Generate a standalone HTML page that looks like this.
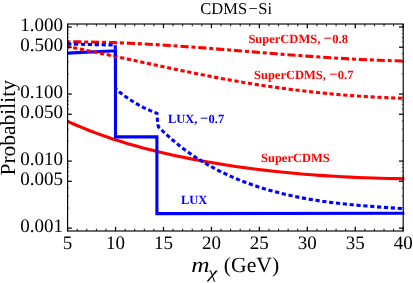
<!DOCTYPE html>
<html><head><meta charset="utf-8"><style>
html,body{margin:0;padding:0;background:#fff;}
svg{display:block;font-family:"Liberation Serif",serif;text-rendering:geometricPrecision;will-change:transform;}
</style></head><body>
<svg width="413" height="283" viewBox="0 0 413 283">
<rect width="413" height="283" fill="#fff"/>
<defs><clipPath id="c"><rect x="67.6" y="24.0" width="336.9" height="207.0"/></clipPath></defs>
<g clip-path="url(#c)" fill="none" stroke-linejoin="miter">
<path d="M67.60,121.33 L75.23,124.72 L82.87,127.94 L90.50,130.98 L98.14,133.86 L105.77,136.58 L113.40,139.16 L121.04,141.60 L128.67,143.90 L136.31,146.09 L143.94,148.16 L151.57,150.12 L159.21,151.99 L166.84,153.77 L174.48,155.47 L182.11,157.08 L189.75,158.62 L197.38,160.08 L205.01,161.47 L212.65,162.80 L220.28,164.07 L227.92,165.28 L235.55,166.42 L243.18,167.50 L250.82,168.53 L258.45,169.49 L266.09,170.41 L273.72,171.26 L281.35,172.07 L288.99,172.82 L296.62,173.52 L304.26,174.17 L311.89,174.78 L319.52,175.33 L327.16,175.84 L334.79,176.31 L342.43,176.74 L350.06,177.12 L357.70,177.46 L365.33,177.76 L372.96,178.03 L380.60,178.26 L388.23,178.45 L395.87,178.61 L403.50,178.74 L404.70,178.76" stroke="#f00" stroke-width="3.1"/>
<path d="M67.60,53.10 L115.50,50.80 L115.50,136.90 L156.90,136.90 L156.90,213.60 L404.70,213.20" stroke="#00f" stroke-width="3.1"/>
<path d="M67.60,46.64 L76.21,48.33 L84.83,50.06 L93.44,51.83 L102.05,53.62 L110.66,55.44 L119.28,57.28 L127.89,59.13 L136.50,60.99 L145.12,62.85 L153.73,64.70 L162.34,66.55 L170.95,68.37 L179.57,70.18 L188.18,71.96 L196.79,73.71 L205.41,75.42 L214.02,77.09 L222.63,78.71 L231.24,80.27 L239.86,81.78 L248.47,83.22 L257.08,84.60 L265.69,85.92 L274.31,87.18 L282.92,88.37 L291.53,89.50 L300.15,90.56 L308.76,91.56 L317.37,92.50 L325.98,93.37 L334.60,94.18 L343.21,94.92 L351.82,95.60 L360.44,96.21 L369.05,96.75 L377.66,97.23 L386.27,97.64 L394.89,97.98 L403.50,98.26 L404.70,98.30" stroke="#f00" stroke-width="3.1" stroke-dasharray="4.2,2.660" stroke-dashoffset="1.23"/>
<path d="M67.60,41.87 L79.18,41.89 L90.77,42.04 L102.35,42.29 L113.93,42.64 L125.51,43.09 L137.10,43.63 L148.68,44.24 L160.26,44.92 L171.84,45.66 L183.43,46.46 L195.01,47.30 L206.59,48.17 L218.18,49.08 L229.76,50.01 L241.34,50.95 L252.92,51.89 L264.51,52.84 L276.09,53.77 L287.67,54.68 L299.26,55.57 L310.84,56.42 L322.42,57.22 L334.00,57.98 L345.59,58.67 L357.17,59.30 L368.75,59.86 L380.33,60.32 L391.92,60.70 L403.50,60.98 L404.70,61.01" stroke="#f00" stroke-width="3.1" stroke-dasharray="8.15,2.87,4,2.87" stroke-dashoffset="12.29"/>
<path d="M67.60,44.00 L115.30,45.10 L115.50,88.70 L120.10,92.57 L124.70,96.05 L129.30,99.24 L133.90,102.17 L138.50,104.84 L143.10,107.28 L147.70,109.48 L152.30,111.47 L156.90,113.26 L157.80,124.80 L158.60,127.11 L162.10,130.50 L165.59,133.77 L169.09,136.93 L172.59,139.96 L176.08,142.88 L179.58,145.70 L183.08,148.40 L186.57,151.00 L190.07,153.51 L193.57,155.91 L197.06,158.22 L200.56,160.44 L204.06,162.57 L207.55,164.62 L211.05,166.59 L214.54,168.48 L218.04,170.29 L221.54,172.04 L225.03,173.71 L228.53,175.33 L232.03,176.88 L235.52,178.37 L239.02,179.81 L242.52,181.19 L246.01,182.53 L249.51,183.81 L253.01,185.05 L256.50,186.24 L260.00,187.38 L265.00,188.94 L272.29,191.05 L279.58,192.98 L286.87,194.74 L294.16,196.35 L301.45,197.81 L308.74,199.13 L316.03,200.33 L323.32,201.41 L330.61,202.39 L337.89,203.28 L345.18,204.08 L352.47,204.80 L359.76,205.47 L367.05,206.08 L374.34,206.65 L381.63,207.18 L388.92,207.70 L396.21,208.21 L403.50,208.71 L404.70,208.79" stroke="#00f" stroke-width="3.1" stroke-dasharray="4.2,2.681" stroke-dashoffset="0.42"/>
</g>
<rect x="67.6" y="24.0" width="335.6" height="207.0" fill="none" stroke="#000" stroke-width="1.15"/>
<g stroke="#000" stroke-width="1.25"><line x1="67.60" y1="231.0" x2="67.60" y2="226.8"/><line x1="67.60" y1="24.0" x2="67.60" y2="28.2"/><line x1="77.19" y1="231.0" x2="77.19" y2="228.6" stroke-width="0.9"/><line x1="77.19" y1="24.0" x2="77.19" y2="26.4" stroke-width="0.9"/><line x1="86.78" y1="231.0" x2="86.78" y2="228.6" stroke-width="0.9"/><line x1="86.78" y1="24.0" x2="86.78" y2="26.4" stroke-width="0.9"/><line x1="96.37" y1="231.0" x2="96.37" y2="228.6" stroke-width="0.9"/><line x1="96.37" y1="24.0" x2="96.37" y2="26.4" stroke-width="0.9"/><line x1="105.95" y1="231.0" x2="105.95" y2="228.6" stroke-width="0.9"/><line x1="105.95" y1="24.0" x2="105.95" y2="26.4" stroke-width="0.9"/><line x1="115.54" y1="231.0" x2="115.54" y2="226.8"/><line x1="115.54" y1="24.0" x2="115.54" y2="28.2"/><line x1="125.13" y1="231.0" x2="125.13" y2="228.6" stroke-width="0.9"/><line x1="125.13" y1="24.0" x2="125.13" y2="26.4" stroke-width="0.9"/><line x1="134.72" y1="231.0" x2="134.72" y2="228.6" stroke-width="0.9"/><line x1="134.72" y1="24.0" x2="134.72" y2="26.4" stroke-width="0.9"/><line x1="144.31" y1="231.0" x2="144.31" y2="228.6" stroke-width="0.9"/><line x1="144.31" y1="24.0" x2="144.31" y2="26.4" stroke-width="0.9"/><line x1="153.90" y1="231.0" x2="153.90" y2="228.6" stroke-width="0.9"/><line x1="153.90" y1="24.0" x2="153.90" y2="26.4" stroke-width="0.9"/><line x1="163.49" y1="231.0" x2="163.49" y2="226.8"/><line x1="163.49" y1="24.0" x2="163.49" y2="28.2"/><line x1="173.07" y1="231.0" x2="173.07" y2="228.6" stroke-width="0.9"/><line x1="173.07" y1="24.0" x2="173.07" y2="26.4" stroke-width="0.9"/><line x1="182.66" y1="231.0" x2="182.66" y2="228.6" stroke-width="0.9"/><line x1="182.66" y1="24.0" x2="182.66" y2="26.4" stroke-width="0.9"/><line x1="192.25" y1="231.0" x2="192.25" y2="228.6" stroke-width="0.9"/><line x1="192.25" y1="24.0" x2="192.25" y2="26.4" stroke-width="0.9"/><line x1="201.84" y1="231.0" x2="201.84" y2="228.6" stroke-width="0.9"/><line x1="201.84" y1="24.0" x2="201.84" y2="26.4" stroke-width="0.9"/><line x1="211.43" y1="231.0" x2="211.43" y2="226.8"/><line x1="211.43" y1="24.0" x2="211.43" y2="28.2"/><line x1="221.02" y1="231.0" x2="221.02" y2="228.6" stroke-width="0.9"/><line x1="221.02" y1="24.0" x2="221.02" y2="26.4" stroke-width="0.9"/><line x1="230.61" y1="231.0" x2="230.61" y2="228.6" stroke-width="0.9"/><line x1="230.61" y1="24.0" x2="230.61" y2="26.4" stroke-width="0.9"/><line x1="240.19" y1="231.0" x2="240.19" y2="228.6" stroke-width="0.9"/><line x1="240.19" y1="24.0" x2="240.19" y2="26.4" stroke-width="0.9"/><line x1="249.78" y1="231.0" x2="249.78" y2="228.6" stroke-width="0.9"/><line x1="249.78" y1="24.0" x2="249.78" y2="26.4" stroke-width="0.9"/><line x1="259.37" y1="231.0" x2="259.37" y2="226.8"/><line x1="259.37" y1="24.0" x2="259.37" y2="28.2"/><line x1="268.96" y1="231.0" x2="268.96" y2="228.6" stroke-width="0.9"/><line x1="268.96" y1="24.0" x2="268.96" y2="26.4" stroke-width="0.9"/><line x1="278.55" y1="231.0" x2="278.55" y2="228.6" stroke-width="0.9"/><line x1="278.55" y1="24.0" x2="278.55" y2="26.4" stroke-width="0.9"/><line x1="288.14" y1="231.0" x2="288.14" y2="228.6" stroke-width="0.9"/><line x1="288.14" y1="24.0" x2="288.14" y2="26.4" stroke-width="0.9"/><line x1="297.73" y1="231.0" x2="297.73" y2="228.6" stroke-width="0.9"/><line x1="297.73" y1="24.0" x2="297.73" y2="26.4" stroke-width="0.9"/><line x1="307.31" y1="231.0" x2="307.31" y2="226.8"/><line x1="307.31" y1="24.0" x2="307.31" y2="28.2"/><line x1="316.90" y1="231.0" x2="316.90" y2="228.6" stroke-width="0.9"/><line x1="316.90" y1="24.0" x2="316.90" y2="26.4" stroke-width="0.9"/><line x1="326.49" y1="231.0" x2="326.49" y2="228.6" stroke-width="0.9"/><line x1="326.49" y1="24.0" x2="326.49" y2="26.4" stroke-width="0.9"/><line x1="336.08" y1="231.0" x2="336.08" y2="228.6" stroke-width="0.9"/><line x1="336.08" y1="24.0" x2="336.08" y2="26.4" stroke-width="0.9"/><line x1="345.67" y1="231.0" x2="345.67" y2="228.6" stroke-width="0.9"/><line x1="345.67" y1="24.0" x2="345.67" y2="26.4" stroke-width="0.9"/><line x1="355.26" y1="231.0" x2="355.26" y2="226.8"/><line x1="355.26" y1="24.0" x2="355.26" y2="28.2"/><line x1="364.85" y1="231.0" x2="364.85" y2="228.6" stroke-width="0.9"/><line x1="364.85" y1="24.0" x2="364.85" y2="26.4" stroke-width="0.9"/><line x1="374.43" y1="231.0" x2="374.43" y2="228.6" stroke-width="0.9"/><line x1="374.43" y1="24.0" x2="374.43" y2="26.4" stroke-width="0.9"/><line x1="384.02" y1="231.0" x2="384.02" y2="228.6" stroke-width="0.9"/><line x1="384.02" y1="24.0" x2="384.02" y2="26.4" stroke-width="0.9"/><line x1="393.61" y1="231.0" x2="393.61" y2="228.6" stroke-width="0.9"/><line x1="393.61" y1="24.0" x2="393.61" y2="26.4" stroke-width="0.9"/><line x1="403.20" y1="231.0" x2="403.20" y2="226.8"/><line x1="403.20" y1="24.0" x2="403.20" y2="28.2"/><line x1="67.6" y1="27.00" x2="71.80" y2="27.00"/><line x1="403.2" y1="27.00" x2="399.00" y2="27.00"/><line x1="67.6" y1="94.05" x2="71.80" y2="94.05"/><line x1="403.2" y1="94.05" x2="399.00" y2="94.05"/><line x1="67.6" y1="73.87" x2="69.00" y2="73.87" stroke-width="0.6"/><line x1="403.2" y1="73.87" x2="401.80" y2="73.87" stroke-width="0.6"/><line x1="67.6" y1="62.06" x2="69.00" y2="62.06" stroke-width="0.6"/><line x1="403.2" y1="62.06" x2="401.80" y2="62.06" stroke-width="0.6"/><line x1="67.6" y1="53.68" x2="69.00" y2="53.68" stroke-width="0.6"/><line x1="403.2" y1="53.68" x2="401.80" y2="53.68" stroke-width="0.6"/><line x1="67.6" y1="47.18" x2="71.80" y2="47.18"/><line x1="403.2" y1="47.18" x2="399.00" y2="47.18"/><line x1="67.6" y1="41.87" x2="69.00" y2="41.87" stroke-width="0.6"/><line x1="403.2" y1="41.87" x2="401.80" y2="41.87" stroke-width="0.6"/><line x1="67.6" y1="37.39" x2="69.00" y2="37.39" stroke-width="0.6"/><line x1="403.2" y1="37.39" x2="401.80" y2="37.39" stroke-width="0.6"/><line x1="67.6" y1="33.50" x2="69.00" y2="33.50" stroke-width="0.6"/><line x1="403.2" y1="33.50" x2="401.80" y2="33.50" stroke-width="0.6"/><line x1="67.6" y1="30.07" x2="69.00" y2="30.07" stroke-width="0.6"/><line x1="403.2" y1="30.07" x2="401.80" y2="30.07" stroke-width="0.6"/><line x1="67.6" y1="161.10" x2="71.80" y2="161.10"/><line x1="403.2" y1="161.10" x2="399.00" y2="161.10"/><line x1="67.6" y1="140.92" x2="69.00" y2="140.92" stroke-width="0.6"/><line x1="403.2" y1="140.92" x2="401.80" y2="140.92" stroke-width="0.6"/><line x1="67.6" y1="129.11" x2="69.00" y2="129.11" stroke-width="0.6"/><line x1="403.2" y1="129.11" x2="401.80" y2="129.11" stroke-width="0.6"/><line x1="67.6" y1="120.73" x2="69.00" y2="120.73" stroke-width="0.6"/><line x1="403.2" y1="120.73" x2="401.80" y2="120.73" stroke-width="0.6"/><line x1="67.6" y1="114.23" x2="71.80" y2="114.23"/><line x1="403.2" y1="114.23" x2="399.00" y2="114.23"/><line x1="67.6" y1="108.92" x2="69.00" y2="108.92" stroke-width="0.6"/><line x1="403.2" y1="108.92" x2="401.80" y2="108.92" stroke-width="0.6"/><line x1="67.6" y1="104.44" x2="69.00" y2="104.44" stroke-width="0.6"/><line x1="403.2" y1="104.44" x2="401.80" y2="104.44" stroke-width="0.6"/><line x1="67.6" y1="100.55" x2="69.00" y2="100.55" stroke-width="0.6"/><line x1="403.2" y1="100.55" x2="401.80" y2="100.55" stroke-width="0.6"/><line x1="67.6" y1="97.12" x2="69.00" y2="97.12" stroke-width="0.6"/><line x1="403.2" y1="97.12" x2="401.80" y2="97.12" stroke-width="0.6"/><line x1="67.6" y1="228.15" x2="71.80" y2="228.15"/><line x1="403.2" y1="228.15" x2="399.00" y2="228.15"/><line x1="67.6" y1="207.97" x2="69.00" y2="207.97" stroke-width="0.6"/><line x1="403.2" y1="207.97" x2="401.80" y2="207.97" stroke-width="0.6"/><line x1="67.6" y1="196.16" x2="69.00" y2="196.16" stroke-width="0.6"/><line x1="403.2" y1="196.16" x2="401.80" y2="196.16" stroke-width="0.6"/><line x1="67.6" y1="187.78" x2="69.00" y2="187.78" stroke-width="0.6"/><line x1="403.2" y1="187.78" x2="401.80" y2="187.78" stroke-width="0.6"/><line x1="67.6" y1="181.28" x2="71.80" y2="181.28"/><line x1="403.2" y1="181.28" x2="399.00" y2="181.28"/><line x1="67.6" y1="175.97" x2="69.00" y2="175.97" stroke-width="0.6"/><line x1="403.2" y1="175.97" x2="401.80" y2="175.97" stroke-width="0.6"/><line x1="67.6" y1="171.49" x2="69.00" y2="171.49" stroke-width="0.6"/><line x1="403.2" y1="171.49" x2="401.80" y2="171.49" stroke-width="0.6"/><line x1="67.6" y1="167.60" x2="69.00" y2="167.60" stroke-width="0.6"/><line x1="403.2" y1="167.60" x2="401.80" y2="167.60" stroke-width="0.6"/><line x1="67.6" y1="164.17" x2="69.00" y2="164.17" stroke-width="0.6"/><line x1="403.2" y1="164.17" x2="401.80" y2="164.17" stroke-width="0.6"/></g>
<g id="txt"><g font-size="19" fill="#000"><text x="67.60" y="249" text-anchor="middle">5</text><text x="115.54" y="249" text-anchor="middle">10</text><text x="163.49" y="249" text-anchor="middle">15</text><text x="211.43" y="249" text-anchor="middle">20</text><text x="259.37" y="249" text-anchor="middle">25</text><text x="307.31" y="249" text-anchor="middle">30</text><text x="355.26" y="249" text-anchor="middle">35</text><text x="403.20" y="249" text-anchor="middle">40</text><text x="63" y="30.60" text-anchor="end">1.000</text><text x="63" y="50.78" text-anchor="end">0.500</text><text x="63" y="97.65" text-anchor="end">0.100</text><text x="63" y="117.83" text-anchor="end">0.050</text><text x="63" y="164.70" text-anchor="end">0.010</text><text x="63" y="184.88" text-anchor="end">0.005</text><text x="63" y="231.75" text-anchor="end">0.001</text></g>
<g font-size="16.5"><text x="200.3" y="14.2">CDMS</text><text x="248.6" y="14.2">−</text><text x="258.3" y="14.2">Si</text></g>
<text transform="translate(14.6,127.8) rotate(-90)" font-size="21.5" text-anchor="middle">Probability</text>
<g font-size="21.7"><text transform="translate(191.3,272.3) scale(1.17,1)" font-style="italic">m</text><text transform="translate(208.2,278.2) scale(1.25,1)" font-size="16.2" font-style="italic">χ</text><text x="223.8" y="272.3">(GeV)</text></g>
<g font-size="12.5" font-weight="bold">
<text y="42.9" fill="#f00"><tspan x="248.4">SuperCDMS,</tspan><tspan x="323.6" font-size="14.5">−</tspan><tspan x="332.3">0.8</tspan></text>
<text y="78.6" fill="#f00"><tspan x="254.0">SuperCDMS,</tspan><tspan x="329.3" font-size="14.5">−</tspan><tspan x="337.8">0.7</tspan></text>
<text y="122.5" fill="#00f"><tspan x="167.9">LUX,</tspan><tspan x="200.0" font-size="14.5">−</tspan><tspan x="208.5">0.7</tspan></text>
<text x="261" y="161.5" fill="#f00">SuperCDMS</text>
<text x="181" y="203.5" fill="#00f">LUX</text>
</g></g>
</svg>
</body></html>
